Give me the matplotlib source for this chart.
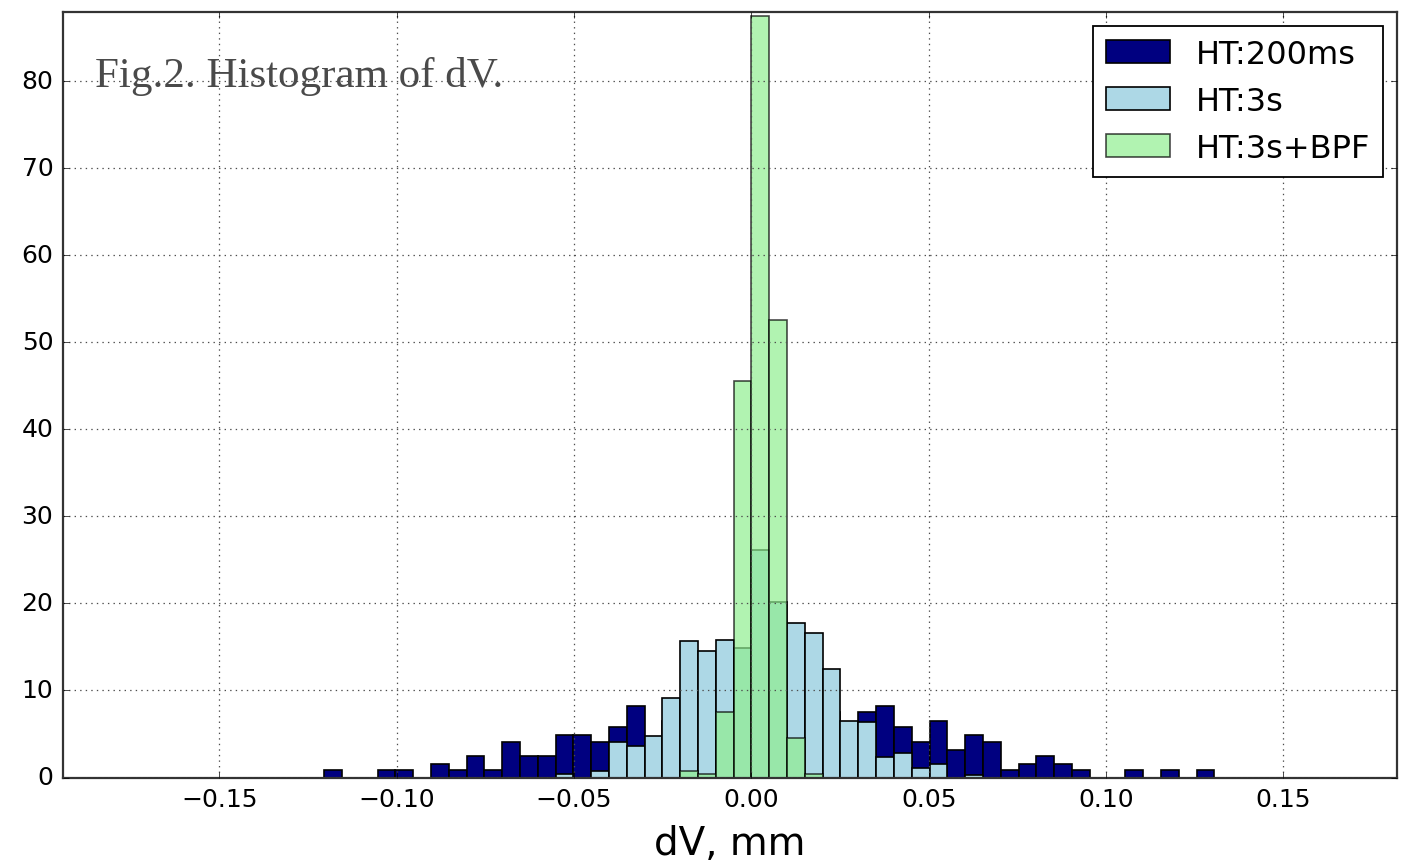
import numpy as np
import matplotlib
matplotlib.use("Agg")
import matplotlib.pyplot as plt

# bin index k -> bin [k*w, (k+1)*w]
bin_width = 0.00502
k_first = -24
# density values, one per bin from k=-24 to k=25
ht200ms = [0.86, 0, 0, 0.86, 0.86, 0, 1.6, 0.86, 2.5, 0.86,
           4.1, 2.5, 2.5, 4.9, 4.9, 4.1, 5.8, 8.2, 4.1, 6.5,
           7.5, 9.9, 10.7, 11.0, 11.5, 11.0, 9.5, 8.0, 7.5, 5.8,
           7.5, 8.2, 5.8, 4.1, 6.5, 3.2, 4.9, 4.1, 0.86, 1.6,
           2.5, 1.6, 0.86, 0, 0, 0.86, 0, 0.86, 0, 0.86]
ht3s = [0, 0, 0, 0, 0, 0, 0, 0, 0, 0,
        0, 0, 0, 0.37, 0, 0.7, 4.05, 3.66, 4.8, 9.1,
        15.7, 14.5, 15.8, 14.9, 26.2, 20.2, 17.8, 16.6, 12.5, 6.5,
        6.4, 2.3, 2.8, 1.1, 1.5, 0, 0.33, 0, 0, 0,
        0, 0, 0, 0, 0, 0, 0, 0, 0, 0]
ht3s_bpf = [0, 0, 0, 0, 0, 0, 0, 0, 0, 0,
            0, 0, 0, 0, 0, 0, 0, 0, 0, 0,
            0.75, 0.4, 7.5, 45.6, 87.5, 52.6, 4.5, 0.4, 0, 0,
            0, 0, 0, 0, 0, 0, 0, 0, 0, 0,
            0, 0, 0, 0, 0, 0, 0, 0, 0, 0]
labels = ["HT:200ms", "HT:3s", "HT:3s+BPF"]

plt.style.use("classic")
plt.rcParams["font.family"] = ["DejaVu Sans"]
plt.rcParams["savefig.facecolor"] = "white"

edges = (np.arange(len(ht200ms) + 1) + k_first) * bin_width
centers = 0.5 * (edges[:-1] + edges[1:])

fig = plt.figure(figsize=(14.21, 8.62), dpi=100, facecolor="white")
ax = fig.add_axes([63 / 1421, 1 - 778.5 / 862, (1397 - 63) / 1421, (778.5 - 12.7) / 862])

ax.hist(centers, bins=edges, weights=ht200ms, color="navy", edgecolor="black",
        linewidth=1.2, label=labels[0])
ax.hist(centers, bins=edges, weights=ht3s, color="lightblue", edgecolor="black",
        linewidth=1.2, label=labels[1])
ax.hist(centers, bins=edges, weights=ht3s_bpf, color="lightgreen", edgecolor="black",
        linewidth=1.2, alpha=0.7, label=labels[2])

ax.set_xlim(-0.1941, 0.1820)
ax.set_ylim(0, 88)
ax.set_xticks([-0.15, -0.10, -0.05, 0.0, 0.05, 0.10, 0.15])
ax.set_yticks(np.arange(0, 90, 10))
ax.tick_params(labelsize=18, pad=7)
ax.grid(True, color="0.3", linestyle=":", linewidth=0.9)
ax.set_axisbelow(False)
for s in ax.spines.values():
    s.set_linewidth(1.6)
    s.set_color("0.2")
ax.set_xlabel("dV, mm", fontsize=28, labelpad=9)

leg = ax.legend(loc="upper right", fontsize=23, borderaxespad=0.45)
leg.get_frame().set_linewidth(1.3)

fig.text(95 / 1421, 1 - 87 / 862, "Fig.2. Histogram of dV.", fontsize=31,
         family=["Liberation Serif"], color="#4a4a4a", va="baseline")

fig.savefig("out.png", dpi=100)
